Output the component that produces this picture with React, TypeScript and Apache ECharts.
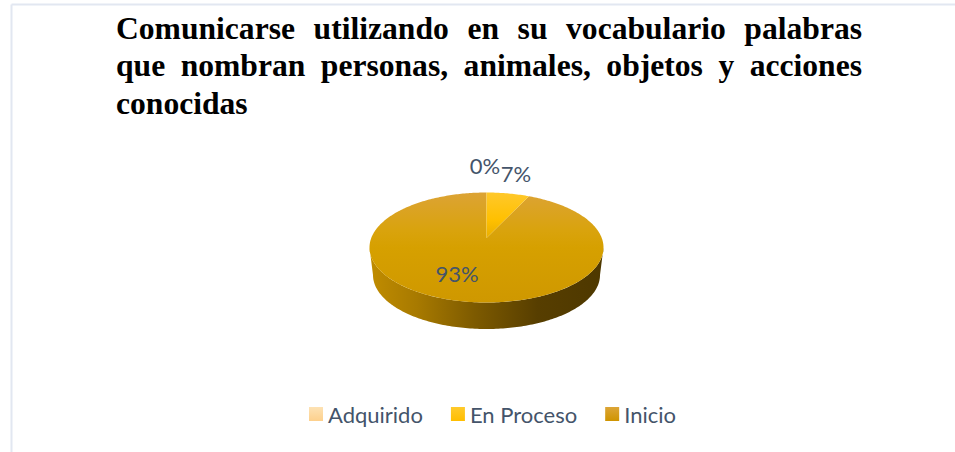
import React, { useEffect, useRef } from "react";
import * as echarts from "echarts";

const titleLines = [
  "Comunicarse utilizando en su vocabulario palabras",
  "que nombran personas, animales, objetos y acciones",
  "conocidas",
];
const categories = ["Adquirido", "En Proceso", "Inicio"];
const percentValues = [0, 7, 93];

const TITLE_FONT = 'bold 31.6px "Liberation Serif"';
const INK = "#44546a";
const LABEL_FONT = '22px Lato';

const CX = 486.5, CY = 247.5, RX = 117, RY = 55, PERSPECTIVE = 0.173;
const DEPTH = 27.5, BOTTOM_RX = 113.5, BOTTOM_RY = 54;
const labelSpots = [[485, 165], [516, 173], [457, 273]];
const titleRows = [28, 65, 103];

const project = (deg: number, rx: number, ry: number, cy: number) => {
  const a = (deg * Math.PI) / 180;
  const u = Math.sin(a), w = Math.cos(a);
  const d = 1 + PERSPECTIVE * w;
  return [
    CX + (rx * u * Math.sqrt(1 - PERSPECTIVE * PERSPECTIVE)) / d,
    cy - (ry * (w + PERSPECTIVE)) / d,
  ];
};

const grad = (x: number, y: number, x2: number, y2: number, stops: [number, string][], global = false) =>
  new echarts.graphic.LinearGradient(x, y, x2, y2, stops.map(([offset, color]) => ({ offset, color })), global);

const topFills = () => [
  grad(0, 193, 0, 302, [[0, "#fde0ae"], [1, "#fdd190"]], true),
  grad(0, 193, 0, 238, [[0, "#ffc82a"], [0.6, "#ffc000"], [1, "#e8ae00"]], true),
  grad(0, 193, 0, 302, [[0, "#dca334"], [0.35, "#d9a30c"], [0.5, "#d6a000"], [1, "#cf9800"]], true),
];
const legendFills = () => [
  grad(0, 0, 0, 1, [[0, "#fde2b4"], [1, "#fdd08c"]]),
  grad(0, 0, 0, 1, [[0, "#ffca2c"], [1, "#ffbe00"]]),
  grad(0, 0, 0, 1, [[0, "#dca537"], [1, "#cf9400"]]),
];
const wallFill = () =>
  grad(370, 0, 603, 0, [[0, "#c08c00"], [0.2, "#a87a00"], [0.45, "#7d5a00"], [0.72, "#573e00"], [1, "#4e3800"]], true);

function makeSeries() {
  const fills = topFills();
  const legend = legendFills();
  const wall = wallFill();
  const wallFrom = (Math.acos(-PERSPECTIVE) * 180) / Math.PI;
  const wallTo = 360 - wallFrom;
  return categories.map((name, idx) => {
    const before = percentValues.slice(0, idx).reduce((s, v) => s + v, 0);
    const total = percentValues.reduce((s, v) => s + v, 0);
    return {
      type: "custom" as const,
      name,
      coordinateSystem: "none",
      silent: true,
      itemStyle: { color: legend[idx] },
      data: [percentValues[idx]],
      z: idx === 2 ? 2 : 3,
      renderItem: (_p: any, api: any) => {
        const value = api.value(0) as number;
        const start = (before / total) * 360;
        const end = start + (value / total) * 360;
        const children: any[] = [];
        const wStart = Math.max(start, wallFrom), wEnd = Math.min(end, wallTo);
        if (wEnd > wStart) {
          const upper: number[][] = [], lower: number[][] = [];
          for (let d = wStart; d <= wEnd; d += 1) {
            upper.push(project(d, RX, RY, CY));
            lower.push(project(d, BOTTOM_RX, BOTTOM_RY, CY + DEPTH));
          }
          children.push({
            type: "polygon",
            shape: { points: upper.concat(lower.reverse()) },
            style: { fill: wall },
          });
        }
        if (value > 0) {
          const apex = project(90, 0, RY, CY);
          const pts: number[][] = [[CX, apex[1]]];
          for (let d = start; d < end; d += 1) pts.push(project(d, RX, RY, CY));
          pts.push(project(end, RX, RY, CY));
          children.push({ type: "polygon", shape: { points: pts }, style: { fill: fills[idx] } });
        }
        children.push({
          type: "text",
          z2: 10,
          x: labelSpots[idx][0],
          y: labelSpots[idx][1],
          style: {
            text: `${value}%`,
            fill: INK,
            font: LABEL_FONT,
            textAlign: "center",
            textVerticalAlign: "middle",
          },
        });
        return { type: "group", children };
      },
    };
  });
}

function titleWords() {
  const left = 116, right = 862;
  const ctx = document.createElement("canvas").getContext("2d")!;
  ctx.font = TITLE_FONT;
  const out: any[] = [];
  titleLines.forEach((line, i) => {
    const words = line.split(" ");
    const widths = words.map((w) => ctx.measureText(w).width);
    const sum = widths.reduce((s, v) => s + v, 0);
    const last = i === titleLines.length - 1;
    const gap = last || words.length < 2 ? 8 : (right - left - sum) / (words.length - 1);
    let x = left;
    words.forEach((w, j) => {
      out.push({
        type: "text",
        x,
        y: titleRows[i],
        style: { text: w, font: TITLE_FONT, fill: "#000000", textAlign: "left", textVerticalAlign: "middle" },
      });
      x += widths[j] + gap;
    });
  });
  return out;
}

export default function App() {
  const ref = useRef<HTMLDivElement>(null);
  useEffect(() => {
    document.body.style.margin = "0";
    const chart = echarts.init(ref.current!, undefined, { renderer: "svg" });
    chart.setOption({
      animation: false,
      backgroundColor: "#ffffff",
      legend: {
        data: categories,
        left: 304,
        top: 398,
        icon: "rect",
        itemWidth: 14,
        itemHeight: 14,
        itemGap: 28,
        selectedMode: false,
        textStyle: { color: INK, fontFamily: "Lato", fontSize: 22 },
      },
      series: makeSeries(),
      graphic: [
        { type: "line", shape: { x1: 11.5, y1: 4.5, x2: 955, y2: 4.5 }, style: { stroke: "#e2e7f1", lineWidth: 2 }, z: 0 },
        { type: "line", shape: { x1: 11.5, y1: 4.5, x2: 11.5, y2: 452 }, style: { stroke: "#e2e7f1", lineWidth: 2 }, z: 0 },
        ...titleWords(),
      ],
    });
    return () => chart.dispose();
  }, []);
  return <div ref={ref} style={{ width: 955, height: 452 }} />;
}
